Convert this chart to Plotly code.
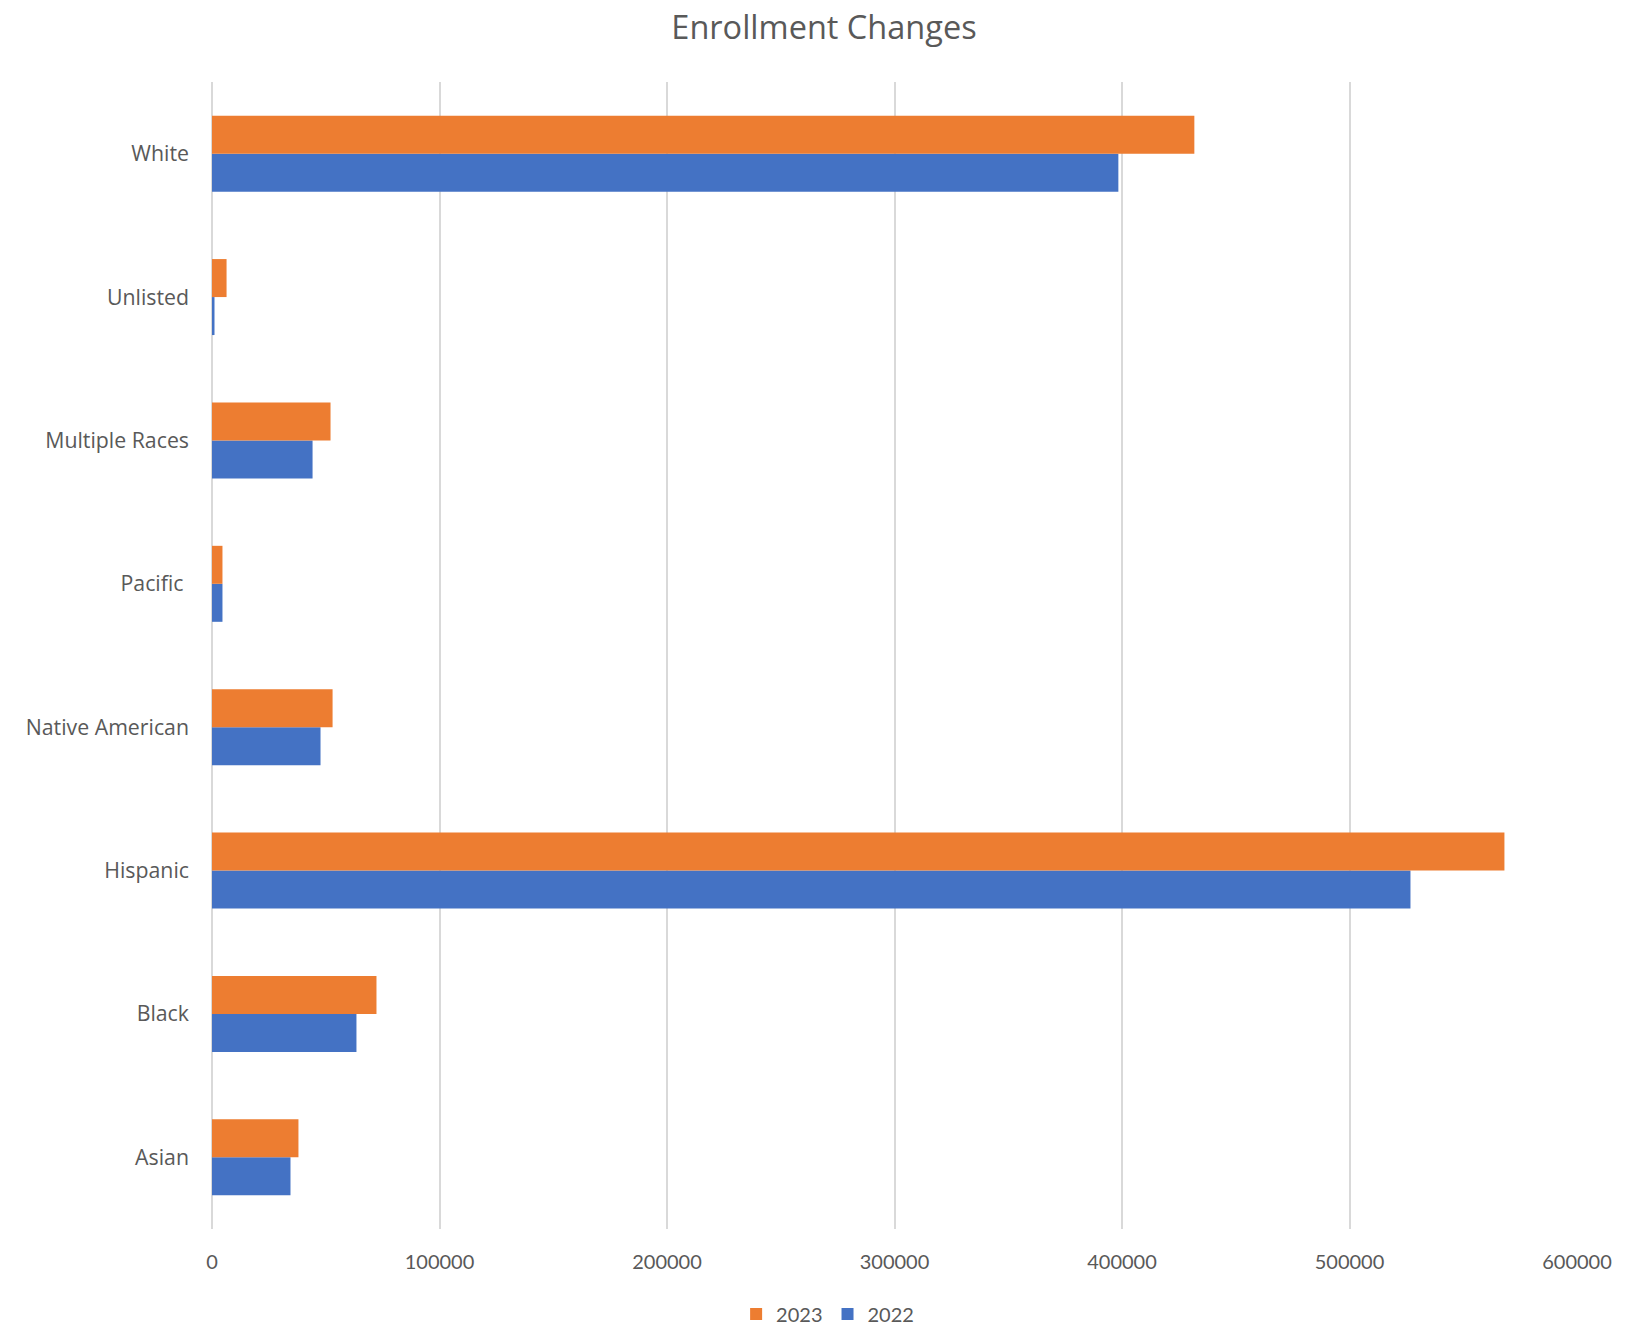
import plotly.graph_objects as go

categories = ["Asian", "Black", "Hispanic", "Native American", "Pacific\u00a0",
              "Multiple Races", "Unlisted", "White"]
values_2022 = [34500, 63500, 526800, 47700, 4600, 44200, 1100, 398400]
values_2023 = [38000, 72300, 568100, 53000, 4600, 52100, 6400, 431800]
x_ticks = [0, 100000, 200000, 300000, 400000, 500000, 600000]

TEXT = "#595959"
FONT = "'Open Sans', Lato, sans-serif"
NUMFONT = "Lato, 'Open Sans', sans-serif"

fig = go.Figure()
fig.add_trace(go.Bar(y=categories, x=values_2022, name="2022", orientation="h",
                     marker=dict(color="#4472C4", line=dict(width=0)), legendrank=2))
fig.add_trace(go.Bar(y=categories, x=values_2023, name="2023", orientation="h",
                     marker=dict(color="#ED7D31", line=dict(width=0)), legendrank=1))

fig.update_layout(
    width=1648, height=1328,
    paper_bgcolor="white", plot_bgcolor="white",
    margin=dict(l=211.5, r=71.3, t=82.3, b=98.5, autoexpand=False),
    barmode="group", bargap=0.47, bargroupgap=0,
    font=dict(family=FONT, color=TEXT, size=20),
    title=dict(text="Enrollment Changes", x=0.5, xref="container", xanchor="center",
               y=1 - 28 / 1328, yref="container", yanchor="middle",
               font=dict(size=32.5, color=TEXT, family=FONT)),
    xaxis=dict(range=[0, 600000], tickvals=x_ticks, ticktext=[str(v) for v in x_ticks],
               showgrid=True, gridcolor="#D9D9D9", gridwidth=1.5,
               zeroline=True, zerolinecolor="#D9D9D9", zerolinewidth=1.5,
               showline=False, ticks="", tickfont=dict(size=20, color=TEXT, family=NUMFONT),
               ticklabelstandoff=19, fixedrange=True),
    yaxis=dict(categoryorder="array", categoryarray=categories, showgrid=False,
               zeroline=False, showline=False, ticks="",
               tickfont=dict(size=21.3, color=TEXT, family=FONT), ticklabelstandoff=22),
    legend=dict(orientation="h", x=0.451, xanchor="center", y=-0.074, yanchor="middle",
                font=dict(size=20, color=TEXT, family=NUMFONT), itemwidth=30,
                traceorder="normal"),
    showlegend=True,
)

fig.write_html("out.html")
